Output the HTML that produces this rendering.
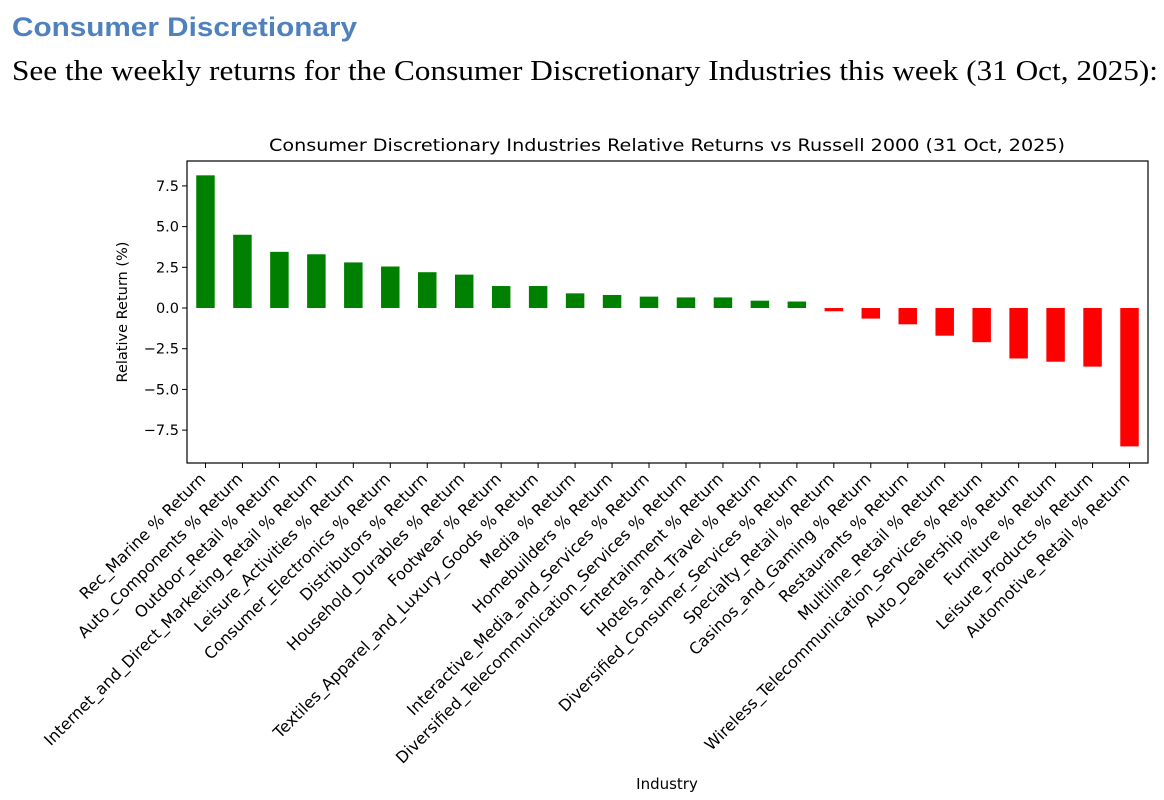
<!DOCTYPE html>
<html><head><meta charset="utf-8"><style>
html,body{margin:0;padding:0;background:#fff;}
svg{display:block}
</style></head><body>
<svg id="c" width="1164" height="800" xmlns="http://www.w3.org/2000/svg">
<text x="12" y="36" font-family="Liberation Sans, sans-serif" font-weight="bold" font-size="27" fill="#4f81bd" textLength="345" lengthAdjust="spacingAndGlyphs">Consumer Discretionary</text>
<text x="12" y="80" font-family="Liberation Serif, serif" font-size="28" fill="#000" textLength="1146" lengthAdjust="spacingAndGlyphs">See the weekly returns for the Consumer Discretionary Industries this week (31 Oct, 2025):</text>
<text x="667" y="151" text-anchor="middle" font-family="DejaVu Sans, sans-serif" font-size="17" fill="#000" textLength="796" lengthAdjust="spacingAndGlyphs">Consumer Discretionary Industries Relative Returns vs Russell 2000 (31 Oct, 2025)</text>
<text transform="translate(127,312) rotate(-90)" text-anchor="middle" font-family="DejaVu Sans, sans-serif" font-size="14.5">Relative Return (%)</text>
<text x="667" y="789" text-anchor="middle" font-family="DejaVu Sans, sans-serif" font-size="15">Industry</text>
<g id="plot"></g>
</svg>
<script>
const categories = ["Rec_Marine","Auto_Components","Outdoor_Retail","Internet_and_Direct_Marketing_Retail","Leisure_Activities","Consumer_Electronics","Distributors","Household_Durables","Footwear","Textiles_Apparel_and_Luxury_Goods","Media","Homebuilders","Interactive_Media_and_Services","Diversified_Telecommunication_Services","Entertainment","Hotels_and_Travel","Diversified_Consumer_Services","Specialty_Retail","Casinos_and_Gaming","Restaurants","Multiline_Retail","Wireless_Telecommunication_Services","Auto_Dealership","Furniture","Leisure_Products","Automotive_Retail"];
const values = [8.15,4.5,3.45,3.3,2.8,2.55,2.2,2.05,1.35,1.35,0.9,0.8,0.7,0.65,0.65,0.45,0.4,-0.2,-0.65,-1.0,-1.7,-2.1,-3.1,-3.3,-3.6,-8.5];
const yTicks = [7.5,5.0,2.5,0.0,-2.5,-5.0,-7.5];
const yTickLabels = ["7.5","5.0","2.5","0.0","\u22122.5","\u22125.0","\u22127.5"];

const NS="http://www.w3.org/2000/svg";
const L=187,R=1148,T=161,B=463;
const yMax=9.03,yMin=-9.52;
const y=v=>T+(yMax-v)/(yMax-yMin)*(B-T);
const step=(R-L)/(categories.length+0.0);
const x=i=>L+step*(i+0.5);
const g=document.getElementById('plot');
function mk(t,a){const e=document.createElementNS(NS,t);for(const k in a)e.setAttribute(k,a[k]);g.appendChild(e);return e;}
values.forEach((v,i)=>{
  const bw=step*0.5;
  const r=mk('rect',{x:x(i)-bw/2,y:Math.min(y(v),y(0)),width:bw,height:Math.abs(y(v)-y(0)),fill:v>=0?'#008000':'#ff0000'});
  
  
  const tk=mk('line',{x1:x(i),x2:x(i),y1:B,y2:B+5,stroke:'#000','stroke-width':1});
  
  
  const t=mk('text',{transform:`translate(${x(i)+1},${B+17}) rotate(-45)`,'text-anchor':'end','font-family':'DejaVu Sans, sans-serif','font-size':16});
  t.textContent=categories[i]+' % Return';
  
  
});
yTicks.forEach((v,i)=>{
  const tk=mk('line',{x1:L-5,x2:L,y1:y(v),y2:y(v),stroke:'#000','stroke-width':1});
  
  
  const t=mk('text',{x:L-8,y:y(v)+5,'text-anchor':'end','font-family':'DejaVu Sans, sans-serif','font-size':14.5});
  t.textContent=yTickLabels[i];
  
  
});
const fr=mk('rect',{x:L,y:T,width:R-L,height:B-T,fill:'none',stroke:'#000','stroke-width':1.2});


</script>
</body></html>
